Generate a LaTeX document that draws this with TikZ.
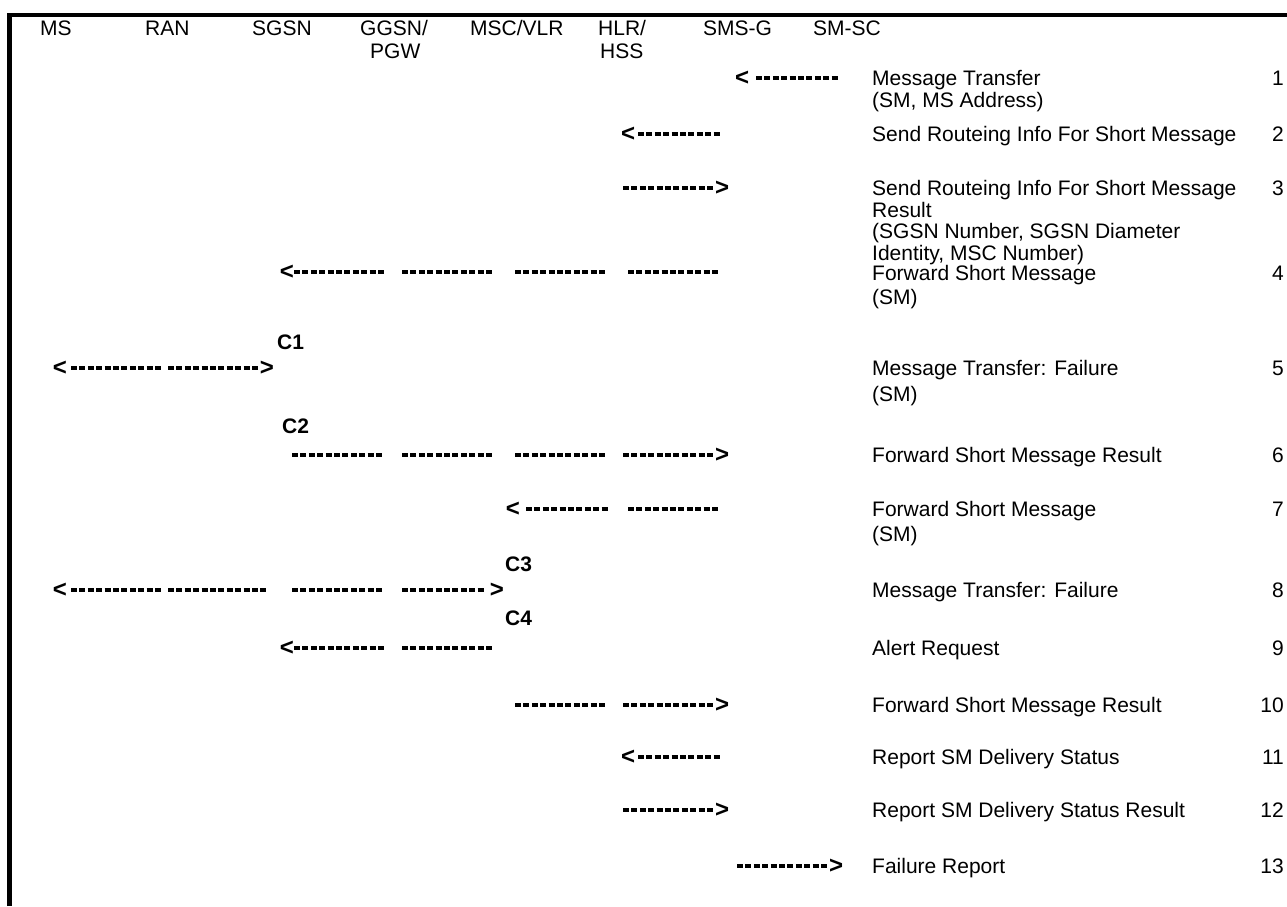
\documentclass[tikz,border=0pt]{standalone}
\usepackage{fontspec}
\setmainfont{Liberation Sans}
\begin{document}
\begin{tikzpicture}[x=1pt,y=-1pt,
  txt/.style={inner sep=0pt,anchor=base west,font=\fontsize{21}{22}\selectfont},
  num/.style={inner sep=0pt,anchor=base east,font=\fontsize{21}{22}\selectfont},
  cl/.style={inner sep=0pt,anchor=base west,font=\fontsize{21}{22}\selectfont\bfseries},
  tip/.style={inner sep=0pt,anchor=center,font=\fontsize{24}{24}\selectfont\bfseries},
  dl/.style={line width=3.2pt,dash pattern=on 6pt off 2.4pt},
  frame/.style={line width=4.5pt,line join=miter}]
\useasboundingbox (0,0) rectangle (1287,906);
% frame
\coordinate (fb) at (9.5,906);
\coordinate (fc) at (9.5,15);
\coordinate (fr) at (1287,15);
\draw[frame] (fb) -- (fc) -- (fr);
% headers
\node[txt] (hMS)   at (40,35)  {MS};
\node[txt] (hRAN)  at (145,35) {RAN};
\node[txt] (hSGSN) at (252,35) {SGSN};
\node[txt] (hGGSN) at (360,35) {GGSN/};
\node[txt] (hPGW)  at (370,58) {PGW};
\node[txt] (hMSC)  at (470,35) {MSC/VLR};
\node[txt] (hHLR)  at (598,35) {HLR/};
\node[txt] (hHSS)  at (600,58) {HSS};
\node[txt] (hSMSG) at (703,35) {SMS-G};
\node[txt] (hSMSC) at (813,35) {SM-SC};
% message labels
\node[txt] (m1a) at (872,85.5)  {Message Transfer};
\node[txt] (m1b) at (872,107.5) {(SM, MS Address)};
\node[txt] (m2a) at (872,141.5) {Send Routeing Info For Short Message};
\node[txt] (m3a) at (872,195.5) {Send Routeing Info For Short Message};
\node[txt] (m3b) at (872,217) {Result};
\node[txt] (m3c) at (872,238.5) {(SGSN Number, SGSN Diameter};
\node[txt] (m3d) at (872,260) {Identity, MSC Number)};
\node[txt] (m4a) at (872,280.5) {Forward Short Message};
\node[txt] (m4b) at (872,304) {(SM)};
\node[txt] (m5a) at (872,375.5) {Message Transfer: Failure};
\node[txt] (m5b) at (872,401.5) {(SM)};
\node[txt] (m6a) at (872,462.5) {Forward Short Message Result};
\node[txt] (m7a) at (872,516.5) {Forward Short Message};
\node[txt] (m7b) at (872,541.5) {(SM)};
\node[txt] (m8a) at (872,597.5) {Message Transfer: Failure};
\node[txt] (m9a) at (872,655.5) {Alert Request};
\node[txt] (m10a) at (872,712.5) {Forward Short Message Result};
\node[txt] (m11a) at (872,764.5) {Report SM Delivery Status};
\node[txt] (m12a) at (872,817.5) {Report SM Delivery Status Result};
\node[txt] (m13a) at (872,873.5) {Failure Report};
% numbers
\node[num] (n1) at (1284,85.5) {1};
\node[num] (n2) at (1284,141.5) {2};
\node[num] (n3) at (1284,195.5) {3};
\node[num] (n4) at (1284,280.5) {4};
\node[num] (n5) at (1284,375.5) {5};
\node[num] (n6) at (1284,462.5) {6};
\node[num] (n7) at (1284,516.5) {7};
\node[num] (n8) at (1284,597.5) {8};
\node[num] (n9) at (1284,655.5) {9};
\node[num] (n10) at (1284,712.5) {10};
\node[num] (n11) at (1284,764.5) {11};
\node[num] (n12) at (1284,817.5) {12};
\node[num] (n13) at (1284,873.5) {13};
% C labels
\node[cl] (c1) at (277,349.5) {C1};
\node[cl] (c2) at (282,433.5) {C2};
\node[cl] (c3) at (505,571.5) {C3};
\node[cl] (c4) at (505,625.5) {C4};
% arrows: name, start x, number of dashes, y
\newcommand\dseg[4]{\pgfmathsetmacro\dsend{#2+8.4*#3-2.4}%
  \coordinate (#1s) at (#2,#4); \coordinate (#1e) at (\dsend,#4); \draw[dl] (#1s) -- (#1e);}
% row 1
\node[tip] (t1) at (742,78) {<};
\dseg{a1x}{756}{10}{78}
% row 2
\node[tip] (t2) at (628,134) {<};
\dseg{a2x}{638}{10}{134}
% row 3
\dseg{a3x}{623}{11}{188}
\node[tip] (t3) at (722,188) {>};
% row 4
\node[tip] (t4) at (287,272) {<};
\dseg{a4a}{294}{11}{272}
\dseg{a4b}{402}{11}{272}
\dseg{a4c}{515}{11}{272}
\dseg{a4d}{628}{11}{272}
% row 5
\node[tip] (t5a) at (60,368) {<};
\dseg{a5a}{71}{11}{368}
\dseg{a5b}{168}{11}{368}
\node[tip] (t5b) at (267,368) {>};
% row 6
\dseg{a6a}{292}{11}{455}
\dseg{a6b}{402}{11}{455}
\dseg{a6c}{515}{11}{455}
\dseg{a6d}{623}{11}{455}
\node[tip] (t6) at (722,455) {>};
% row 7
\node[tip] (t7) at (513,509) {<};
\dseg{a7a}{526}{10}{509}
\dseg{a7b}{628}{11}{509}
% row 8
\node[tip] (t8a) at (60,590) {<};
\dseg{a8a}{71}{11}{590}
\dseg{a8b}{168}{12}{590}
\dseg{a8c}{292}{11}{590}
\dseg{a8d}{402}{10}{590}
\node[tip] (t8b) at (497,590) {>};
% row 9
\node[tip] (t9) at (287,648) {<};
\dseg{a9a}{294}{11}{648}
\dseg{a9b}{402}{11}{648}
% row 10
\dseg{a10a}{515}{11}{705}
\dseg{a10b}{623}{11}{705}
\node[tip] (t10) at (722,705) {>};
% row 11
\node[tip] (t11) at (628,757) {<};
\dseg{a11x}{638}{10}{757}
% row 12
\dseg{a12x}{623}{11}{810}
\node[tip] (t12) at (722,810) {>};
% row 13
\dseg{a13x}{737}{11}{866}
\node[tip] (t13) at (836,866) {>};
\end{tikzpicture}
\end{document}
